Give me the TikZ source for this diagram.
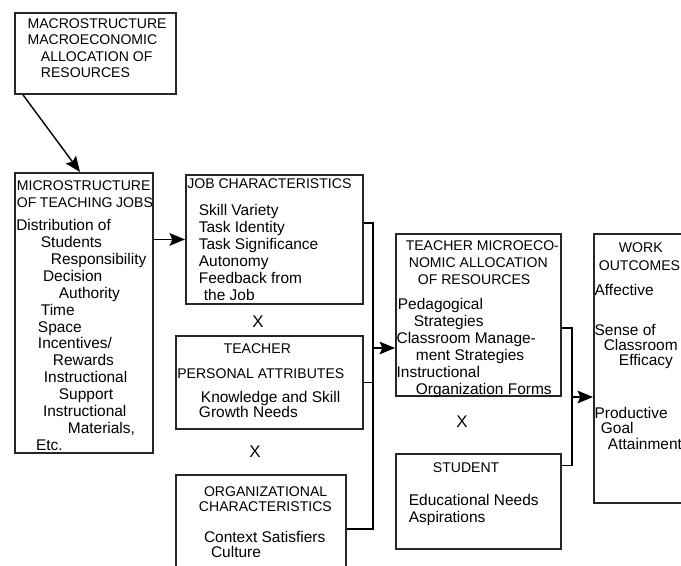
\documentclass[tikz,border=0pt]{standalone}
\usepackage{fontspec}
\setmainfont{Liberation Sans}
\usetikzlibrary{arrows.meta}

\newcommand{\hd}{\fontsize{10}{12}\selectfont}

\begin{document}
\begin{tikzpicture}[x=0.025cm, y=-0.025cm,
  box/.style={draw=black!85, line width=1.3pt, anchor=north west, inner sep=0pt, font=\fontsize{11}{12}\selectfont},
  link/.style={line width=1pt, -{Stealth[length=11pt,width=9pt,inset=2pt]}},
  bus/.style={line width=0.8pt},
  times/.style={font=\fontsize{12}{12}\selectfont}]

\useasboundingbox (0,0) rectangle (681,565);
\clip (0,0) rectangle (681,565);

% boxes
\node[box] (macro) at (14,12) {\parbox[c][2.025cm][t]{4.025cm}{\hd\vspace*{3pt}%
\strut\hspace*{9pt}MACROSTRUCTURE\\[-0.6pt]
\hspace*{9pt}MACROECONOMIC\\[-0.6pt]
\hspace*{18.5pt}ALLOCATION OF\\[-0.6pt]
\hspace*{18.5pt}RESOURCES}};

\node[box] (micro) at (14,172) {\parbox[c][7cm][t]{3.45cm}{\vspace*{4.4pt}%
\strut\hspace*{1.4pt}{\hd MICROSTRUCTURE}\\
\hspace*{1.4pt}{\hd OF TEACHING JOBS}\\[4.4pt]
\hspace*{1pt}Distribution of\\
\hspace*{18.5pt}Students\\
\hspace*{25.6pt}Responsibility\\
\hspace*{20pt}Decision\\
\hspace*{31.3pt}Authority\\
\hspace*{18.5pt}Time\\
\hspace*{16.4pt}Space\\
\hspace*{16.4pt}Incentives/\\
\hspace*{27pt}Rewards\\
\hspace*{20.6pt}Instructional\\
\hspace*{31.3pt}Support\\
\hspace*{20pt}Instructional\\
\hspace*{37.7pt}Materials,\\
\hspace*{15pt}Etc.}};

\node[box] (job) at (185,174) {\parbox[c][3.225cm][t]{4.425cm}{\vspace*{1.6pt}%
\strut\hspace*{1pt}{\hd JOB CHARACTERISTICS}\\[7.2pt]
\hspace*{9.2pt}Skill Variety\\
\hspace*{9.2pt}Task Identity\\
\hspace*{9.2pt}Task Significance\\
\hspace*{9.2pt}Autonomy\\
\hspace*{9.2pt}Feedback from\\
\hspace*{12.8pt}the Job}};

\node[box] (teacher) at (175,335) {\parbox[c][2.325cm][t]{4.675cm}{\vspace*{4.4pt}%
\strut\hspace*{34pt}{\hd TEACHER}\\[5.8pt]
\hspace*{1pt}{\hd PERSONAL ATTRIBUTES}\\[5pt]
\hspace*{17.8pt}Knowledge and Skill\\[-1.5pt]
\hspace*{16.4pt}Growth Needs}};

\node[box] (org) at (175,474) {\parbox[c][2.7cm][t]{4.25cm}{\vspace*{6.6pt}%
\strut\hspace*{20pt}{\hd ORGANIZATIONAL}\\[-1.3pt]
\hspace*{16.4pt}{\hd CHARACTERISTICS}\\[10.2pt]
\hspace*{20pt}Context Satisfiers\\[-1.5pt]
\hspace*{25pt}Culture}};

\node[box] (tm) at (395,233) {\parbox[c][4.05cm][t]{4.125cm}{\vspace*{3.7pt}%
\strut\hspace*{7pt}{\hd TEACHER MICROECO-}\\
\hspace*{9.2pt}{\hd NOMIC ALLOCATION}\\
\hspace*{15.6pt}{\hd OF RESOURCES}\\[5.8pt]
\hspace*{1.4pt}Pedagogical\\
\hspace*{12.8pt}Strategies\\
\hspace*{0.5pt}Classroom Manage-\\
\hspace*{14.2pt}ment Strategies\\
\hspace*{0.5pt}Instructional\\
\hspace*{14.2pt}Organization Forms}};

\node[box] (student) at (395,453) {\parbox[c][2.375cm][t]{4.125cm}{\vspace*{5.1pt}%
\strut\hspace*{26.3pt}{\hd STUDENT}\\[11.5pt]
\hspace*{9.2pt}Educational Needs\\[-0.5pt]
\hspace*{9.2pt}Aspirations}};

\node[box] (work) at (593,233) {\parbox[c][6.725cm][t]{3cm}{\vspace*{5.1pt}%
\strut\hspace*{17.8pt}{\hd WORK}\\[0.8pt]
\hspace*{3.5pt}{\hd OUTCOMES}\\[5.8pt]
\hspace*{0.5pt}Affective\\[16pt]
\hspace*{0.5pt}Sense of\\[-1.5pt]
\hspace*{7pt}Classroom\\[-1pt]
\hspace*{17.8pt}Efficacy\\[25.5pt]
\hspace*{0.5pt}Productive\\[-1pt]
\hspace*{5pt}Goal\\[-0.5pt]
\hspace*{10pt}Attainment}};

% multiplication signs
\node[times] (x1) at (258,322) {X};
\node[times] (x2) at (255,452) {X};
\node[times] (x3) at (462,422) {X};

% connectors
\coordinate (lbus) at (373,348);
\coordinate (rbus) at (572,397);

\draw[link] ([xshift=0.225cm]macro.south west) -- ([xshift=1.65cm]micro.north west);
\draw[link] (micro.east |- job.west) -- (job.west);
\draw[bus] ([yshift=0.41cm]job.east) -| (lbus) |- (org.east);
\draw[bus] (teacher.east) -- (lbus |- teacher.east);
\draw[link] (lbus) -- (tm.west |- lbus);
\draw[bus] ([yshift=-0.325cm]tm.east) -| (rbus) |- ([yshift=0.8875cm]student.east);
\draw[link] (rbus) -- (work.west |- rbus);

\end{tikzpicture}
\end{document}
